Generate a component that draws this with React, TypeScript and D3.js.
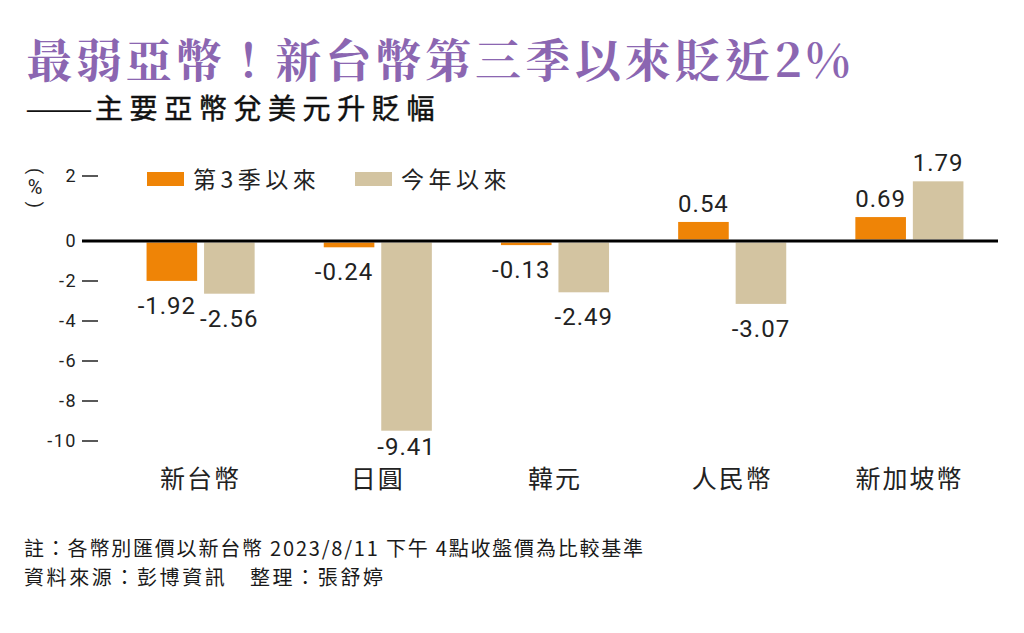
import React, { useEffect, useRef } from "react";
import * as d3 from "d3";

// 資料
const categories = ["新台幣", "日圓", "韓元", "人民幣", "新加坡幣"];
const seriesNames = ["第3季以來", "今年以來"];
const sinceQ3 = [-1.92, -0.24, -0.13, 0.54, 0.69];
const sinceYearStart = [-2.56, -9.41, -2.49, -3.07, 1.79];
const yTicks = [2, 0, -2, -4, -6, -8, -10];

const title = "最弱亞幣！新台幣第三季以來貶近2%";
const subtitleDash = "——";
const subtitle = "主要亞幣兌美元升貶幅";
const notes = [
  "註：各幣別匯價以新台幣 2023/8/11 下午 4點收盤價為比較基準",
  "資料來源：彭博資訊　整理：張舒婷",
];

const colors = ["#ef8406", "#d3c4a1"];
const CJK = "'Noto Sans CJK TC', 'Noto Sans CJK SC', sans-serif";
const NUM = "Roboto, 'Noto Sans CJK TC', sans-serif";

const App: React.FC = () => {
  const svgRef = useRef<SVGSVGElement | null>(null);

  useEffect(() => {
    if (!svgRef.current) return;
    document.body.style.margin = "0";
    const width = 1024;
    const height = 633;
    const svg = d3.select(svgRef.current);
    svg.attr("width", width).attr("height", height);
    svg.selectAll("*").remove();

    svg.append("rect").attr("width", width).attr("height", height).attr("fill", "#fff");

    // --- 標題 ---
    svg
      .append("text")
      .attr("x", 26)
      .attr("y", 77)
      .attr("font-family", "'Noto Serif CJK TC', " + CJK)
      .attr("font-weight", 700)
      .attr("font-size", 46)
      .attr("letter-spacing", 3.9)
      .attr("fill", "#8b66b1")
      .text(title);

    svg
      .append("text")
      .attr("x", 25)
      .attr("y", 119)
      .attr("textLength", 68)
      .attr("lengthAdjust", "spacingAndGlyphs")
      .attr("font-family", CJK)
      .attr("font-size", 28)
      .attr("fill", "#111")
      .text(subtitleDash);

    svg
      .append("text")
      .attr("x", 95)
      .attr("y", 119)
      .attr("font-family", CJK)
      .attr("font-size", 28)
      .attr("letter-spacing", 6.6)
      .attr("stroke", "#111")
      .attr("stroke-width", 0.5)
      .attr("fill", "#111")
      .text(subtitle);

    // --- 比例尺 ---
    // 正值區與負值區的刻度間距不同（依原圖）
    const y = d3.scaleLinear().domain([-10, 0, 2]).range([441, 241, 176]);
    const x0 = d3
      .scaleBand()
      .domain(categories)
      .range([112, 998])
      .paddingInner(0.39)
      .paddingOuter(0.195);
    const x1 = d3
      .scaleBand()
      .domain(seriesNames)
      .range([0, x0.bandwidth()])
      .paddingInner(0.12);

    const lineW = 3;
    const y0 = y(0);

    // --- Y 軸 ---
    const axis = svg.append("g");
    yTicks.forEach((t) => {
      axis
        .append("text")
        .attr("x", 77)
        .attr("y", y(t))
        .attr("dy", "0.36em")
        .attr("text-anchor", "end")
        .attr("font-family", NUM)
        .attr("font-size", 18)
        .attr("letter-spacing", 1.5)
        .attr("fill", "#222")
        .text(t);
      if (t !== 0) {
        axis
          .append("line")
          .attr("x1", 82)
          .attr("x2", 98)
          .attr("y1", y(t))
          .attr("y2", y(t))
          .attr("stroke", "#222")
          .attr("stroke-width", 1.5);
      }
    });

    // (%) 單位，直排
    const unit = svg
      .append("g")
      .attr("font-family", NUM)
      .attr("fill", "#222")
      .attr("text-anchor", "middle")
      .attr("dominant-baseline", "central");
    unit
      .append("text")
      .attr("transform", "translate(35,171) rotate(90)")
      .attr("font-size", 18)
      .text("(");
    unit.append("text").attr("x", 35).attr("y", 187).attr("font-size", 20).text("%");
    unit
      .append("text")
      .attr("transform", "translate(35,205) rotate(90)")
      .attr("font-size", 18)
      .text(")");

    // --- 長條 ---
    const rows = categories.map((c, i) => ({
      cat: c,
      vals: [sinceQ3[i], sinceYearStart[i]],
    }));

    const groups = svg
      .selectAll(".grp")
      .data(rows)
      .enter()
      .append("g")
      .attr("class", "grp")
      .attr("transform", (d) => `translate(${x0(d.cat)},0)`);

    groups
      .selectAll("rect")
      .data((d) => d.vals.map((v, j) => ({ v, s: seriesNames[j], j })))
      .enter()
      .append("rect")
      .attr("x", (d) => x1(d.s)!)
      .attr("width", x1.bandwidth())
      .attr("y", (d) => (d.v >= 0 ? y(d.v) - lineW / 2 : y0 + lineW / 2))
      .attr("height", (d) => Math.abs(y(d.v) - y0))
      .attr("fill", (d) => colors[d.j]);

    // 數值標籤
    groups
      .selectAll(".val")
      .data((d) => d.vals.map((v, j) => ({ v, s: seriesNames[j], j })))
      .enter()
      .append("text")
      .attr("class", "val")
      .attr("x", (d) => x1(d.s)! + x1.bandwidth() / 2 - (d.j === 0 && d.v < 0 ? 5 : 0))
      .attr("y", (d) =>
        d.v >= 0
          ? y(d.v) - lineW / 2 - 10
          : Math.min(y(d.v) + lineW / 2 + 33, 455)
      )
      .attr("text-anchor", "middle")
      .attr("font-family", NUM)
      .attr("font-size", 24)
      .attr("letter-spacing", 1)
      .attr("fill", "#222")
      .text((d) => d.v.toFixed(2));

    // 零線
    svg
      .append("line")
      .attr("x1", 82)
      .attr("x2", x0.range()[1])
      .attr("y1", y0)
      .attr("y2", y0)
      .attr("stroke", "#000")
      .attr("stroke-width", lineW);

    // 類別標籤
    svg
      .selectAll(".cat")
      .data(categories)
      .enter()
      .append("text")
      .attr("class", "cat")
      .attr("x", (d) => x0(d)! + x0.bandwidth() / 2)
      .attr("y", 488)
      .attr("text-anchor", "middle")
      .attr("font-family", CJK)
      .attr("font-size", 25)
      .attr("letter-spacing", 2)
      .attr("fill", "#222")
      .text((d) => d);

    // --- 圖例 ---
    const legendX = [147, 355];
    const legend = svg
      .selectAll(".leg")
      .data(seriesNames)
      .enter()
      .append("g")
      .attr("class", "leg")
      .attr("transform", (_, i) => `translate(${legendX[i]},0)`);
    legend
      .append("rect")
      .attr("x", 0)
      .attr("y", 172)
      .attr("width", 37)
      .attr("height", 14)
      .attr("fill", (_, i) => colors[i]);
    legend
      .append("text")
      .attr("x", 46)
      .attr("y", 188)
      .attr("font-family", CJK)
      .attr("font-size", 23)
      .attr("letter-spacing", 4.5)
      .attr("fill", "#222")
      .text((d) => d);

    // --- 註解 ---
    svg
      .selectAll(".note")
      .data(notes)
      .enter()
      .append("text")
      .attr("class", "note")
      .attr("x", 24)
      .attr("y", (_, i) => 556 + i * 29)
      .attr("font-family", CJK)
      .attr("font-size", 20)
      .attr("letter-spacing", (_, i) => (i === 0 ? 1.8 : 2.6))
      .attr("fill", "#1a1a1a")
      .text((d) => d);
  }, []);

  return (
    <svg
      ref={svgRef}
      style={{ position: "absolute", left: 0, top: 0, display: "block" }}
    ></svg>
  );
};

export default App;
